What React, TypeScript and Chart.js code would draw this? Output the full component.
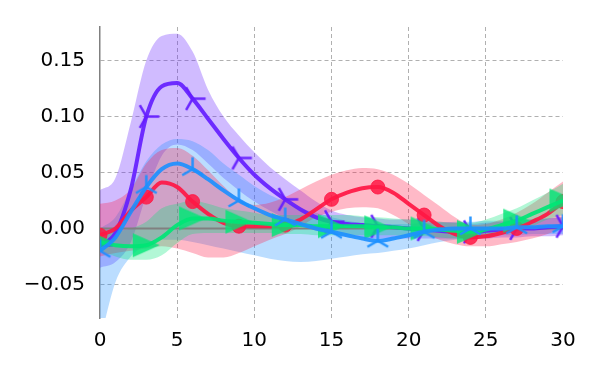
import React, { useEffect, useRef } from "react";
import { Chart, registerables } from "chart.js";

Chart.register(...registerables);

const steps = [0, 1, 2, 3, 4, 5, 6, 7, 8, 9, 10, 11, 12, 13, 14, 15, 16, 17, 18, 19, 20, 21, 22, 23, 24, 25, 26, 27, 28, 29, 30];

const purpleMean = [-0.015, -0.004, 0.035, 0.100, 0.127, 0.130, 0.116, 0.098, 0.080, 0.063, 0.048, 0.036, 0.026, 0.017, 0.010, 0.006, 0.004, 0.003, 0.002, 0.001, 0.000, -0.001, -0.002, -0.003, -0.003, -0.002, -0.001, 0.000, 0.000, 0.001, 0.002];
const purpleUpper = [0.034, 0.045, 0.095, 0.150, 0.172, 0.174, 0.158, 0.124, 0.100, 0.083, 0.068, 0.055, 0.044, 0.034, 0.024, 0.016, 0.012, 0.010, 0.009, 0.008, 0.008, 0.007, 0.006, 0.005, 0.004, 0.005, 0.006, 0.007, 0.008, 0.009, 0.010];
const purpleLower = [-0.035, -0.030, -0.012, 0.030, 0.065, 0.075, 0.070, 0.058, 0.045, 0.034, 0.024, 0.016, 0.009, 0.003, -0.002, -0.005, -0.007, -0.008, -0.009, -0.009, -0.009, -0.009, -0.009, -0.009, -0.009, -0.009, -0.008, -0.008, -0.007, -0.007, -0.006];

const blueMean = [-0.020, -0.008, 0.015, 0.037, 0.053, 0.058, 0.053, 0.044, 0.034, 0.025, 0.018, 0.012, 0.008, 0.004, 0.000, -0.003, -0.006, -0.009, -0.011, -0.009, -0.006, -0.003, -0.001, 0.000, 0.000, 0.000, 0.000, 0.001, 0.001, 0.002, 0.002];
const blueUpper = [0.000, 0.010, 0.035, 0.060, 0.075, 0.080, 0.078, 0.070, 0.058, 0.048, 0.038, 0.030, 0.024, 0.018, 0.014, 0.010, 0.007, 0.005, 0.004, 0.004, 0.004, 0.005, 0.005, 0.006, 0.006, 0.007, 0.007, 0.008, 0.008, 0.009, 0.010];
const blueLower = [-0.100, -0.048, -0.025, -0.015, -0.010, -0.010, -0.012, -0.015, -0.018, -0.021, -0.024, -0.027, -0.029, -0.030, -0.029, -0.027, -0.025, -0.023, -0.022, -0.020, -0.018, -0.015, -0.012, -0.010, -0.008, -0.007, -0.006, -0.006, -0.005, -0.005, -0.005];

const redMean = [-0.006, 0.000, 0.016, 0.028, 0.041, 0.037, 0.024, 0.013, 0.005, 0.002, 0.002, 0.002, 0.003, 0.008, 0.017, 0.026, 0.032, 0.036, 0.037, 0.032, 0.022, 0.012, 0.002, -0.005, -0.008, -0.007, -0.004, 0.000, 0.006, 0.013, 0.024];
const redUpper = [0.022, 0.025, 0.035, 0.058, 0.070, 0.072, 0.065, 0.052, 0.038, 0.026, 0.021, 0.023, 0.028, 0.035, 0.042, 0.048, 0.052, 0.054, 0.053, 0.048, 0.040, 0.030, 0.020, 0.010, 0.003, 0.004, 0.008, 0.014, 0.022, 0.032, 0.042];
const redLower = [-0.025, -0.022, -0.020, -0.018, -0.016, -0.018, -0.022, -0.026, -0.026, -0.022, -0.016, -0.010, -0.005, 0.002, 0.010, 0.015, 0.018, 0.019, 0.018, 0.012, 0.004, -0.004, -0.010, -0.014, -0.016, -0.016, -0.014, -0.012, -0.009, -0.005, 0.000];

const greenMean = [-0.012, -0.015, -0.016, -0.015, -0.008, 0.003, 0.009, 0.009, 0.007, 0.006, 0.005, 0.004, 0.003, 0.003, 0.002, 0.002, 0.002, 0.002, 0.001, 0.001, 0.000, 0.000, -0.001, -0.002, -0.003, -0.001, 0.003, 0.007, 0.013, 0.019, 0.025];
const greenUpper = [0.000, -0.002, 0.000, 0.006, 0.018, 0.022, 0.025, 0.022, 0.018, 0.016, 0.014, 0.012, 0.012, 0.012, 0.012, 0.012, 0.012, 0.011, 0.010, 0.009, 0.008, 0.007, 0.006, 0.005, 0.005, 0.008, 0.013, 0.018, 0.025, 0.032, 0.040];
const greenLower = [-0.020, -0.025, -0.028, -0.028, -0.024, -0.013, -0.005, -0.004, -0.004, -0.004, -0.004, -0.004, -0.005, -0.005, -0.006, -0.006, -0.006, -0.006, -0.006, -0.006, -0.007, -0.007, -0.008, -0.009, -0.009, -0.008, -0.005, -0.002, 0.002, 0.008, 0.012];

const zeroX = [0, 30];
const zeroY = [0, 0];

const xTicks = [0, 5, 10, 15, 20, 25, 30];
const yTicks = [-0.05, 0.0, 0.05, 0.1, 0.15];

const PURPLE = "101,31,255";
const BLUE = "30,144,255";
const RED = "255,23,68";
const GREEN = "0,230,118";

const FONT = { family: "'DejaVu Sans', sans-serif", size: 20 };

function pts(xs: number[], ys: number[]) {
  return xs.map((x, i) => ({ x, y: ys[i] }));
}

function triMarker(dirs: number[][], color: string, r: number, lw: number) {
  const s = Math.ceil(2 * r + 2 * lw);
  const c = document.createElement("canvas");
  c.width = s;
  c.height = s;
  const g = c.getContext("2d")!;
  g.strokeStyle = color;
  g.lineWidth = lw;
  g.beginPath();
  for (const [dx, dy] of dirs) {
    g.moveTo(s / 2, s / 2);
    g.lineTo(s / 2 + dx * r, s / 2 + dy * r);
  }
  g.stroke();
  return c;
}

function triRightFilled(color: string, hw: number, hh: number) {
  const w = Math.ceil(2 * hw + 2);
  const h = Math.ceil(2 * hh + 2);
  const c = document.createElement("canvas");
  c.width = w;
  c.height = h;
  const g = c.getContext("2d")!;
  g.fillStyle = color;
  g.beginPath();
  g.moveTo(w / 2 + hw, h / 2);
  g.lineTo(w / 2 - hw, h / 2 - hh);
  g.lineTo(w / 2 - hw, h / 2 + hh);
  g.closePath();
  g.fill();
  return c;
}

export default function App() {
  const ref = useRef<HTMLCanvasElement | null>(null);

  useEffect(() => {
    document.body.style.margin = "0";
    const canvas = ref.current!;
    const triRight = triMarker([[1, 0], [-0.5, -0.866], [-0.5, 0.866]], `rgba(${PURPLE},0.95)`, 13, 2.5);
    const triUp = triMarker([[0, -1], [-0.866, 0.5], [0.866, 0.5]], `rgba(${BLUE},0.95)`, 12, 2.5);
    const greenTri = triRightFilled(`rgba(${GREEN},0.8)`, 13.5, 12);

    const every3 = (r: number) => (c: any) => (c.dataIndex % 3 === 0 ? r : 0);

    const band = (lower: number[], upper: number[], rgb: string, idx: number, order: number) => [
      {
        data: pts(steps, lower),
        borderWidth: 0,
        pointRadius: 0,
        fill: false,
        cubicInterpolationMode: "monotone",
        order,
        clip: 0,
      },
      {
        data: pts(steps, upper),
        borderWidth: 0,
        pointRadius: 0,
        backgroundColor: `rgba(${rgb},0.3)`,
        fill: { target: idx },
        cubicInterpolationMode: "monotone",
        order,
        clip: 0,
      },
    ];

    const line = (ys: number[], rgb: string, order: number, pointStyle: any, radius: number) => ({
      data: pts(steps, ys),
      borderColor: `rgba(${rgb},0.92)`,
      borderWidth: 4,
      backgroundColor: `rgba(${rgb},0.85)`,
      pointBackgroundColor: `rgba(${rgb},0.85)`,
      pointBorderColor: `rgba(${rgb},0.85)`,
      pointBorderWidth: 1,
      pointStyle,
      pointRadius: every3(radius),
      fill: false,
      cubicInterpolationMode: "monotone",
      order,
      clip: 0,
    });

    const datasets: any[] = [
      ...band(purpleLower, purpleUpper, PURPLE, 0, 100),
      ...band(blueLower, blueUpper, BLUE, 2, 99),
      ...band(redLower, redUpper, RED, 4, 98),
      ...band(greenLower, greenUpper, GREEN, 6, 97),
      {
        data: pts(zeroX, zeroY),
        borderColor: "rgba(128,128,128,1)",
        borderWidth: 2,
        pointRadius: 0,
        fill: false,
        order: 50,
        clip: 0,
      },
      line(purpleMean, PURPLE, 10, triRight, 8),
      line(redMean, RED, 9, "circle", 7),
      line(greenMean, GREEN, 8, greenTri, 8),
      line(blueMean, BLUE, 7, triUp, 8),
    ];

    const chart = new Chart(canvas, {
      type: "line",
      data: { datasets },
      options: {
        responsive: false,
        animation: false,
        events: [],
        layout: { padding: { top: 22, right: 37, left: 0, bottom: 0 } },
        plugins: { legend: { display: false }, tooltip: { enabled: false } },
        scales: {
          x: {
            type: "linear",
            min: 0,
            max: 30,
            afterBuildTicks: (s: any) => {
              s.ticks = xTicks.map((v) => ({ value: v }));
            },
            afterFit: (s: any) => {
              s.height = 57;
            },
            ticks: { font: FONT, color: "#000", padding: 11, maxRotation: 0, autoSkip: false },
            grid: {
              color: (c: any) => (c.tick && (c.tick.value === 0 || c.tick.value === 30) ? "rgba(0,0,0,0)" : "#b0b0b0"),
              lineWidth: 1,
              drawTicks: false,
            },
            border: { display: false, dash: [4, 3] },
          },
          y: {
            type: "linear",
            min: -0.08,
            max: 0.18,
            afterBuildTicks: (s: any) => {
              s.ticks = yTicks.map((v) => ({ value: v }));
            },
            afterFit: (s: any) => {
              s.width = 100;
            },
            ticks: {
              font: FONT,
              color: "#000",
              padding: 15,
              autoSkip: false,
              callback: (v: any) => (v < 0 ? "\u2212" : "") + Math.abs(Number(v)).toFixed(2),
            },
            grid: { color: "#b0b0b0", lineWidth: 1, drawTicks: false },
            border: { display: true, color: "#808080", width: 1.5, dash: [4, 3] },
          },
        },
      } as any,
    });
    return () => chart.destroy();
  }, []);

  return (
    <div style={{ width: 600, height: 375 }}>
      <canvas ref={ref} width={600} height={375} />
    </div>
  );
}
